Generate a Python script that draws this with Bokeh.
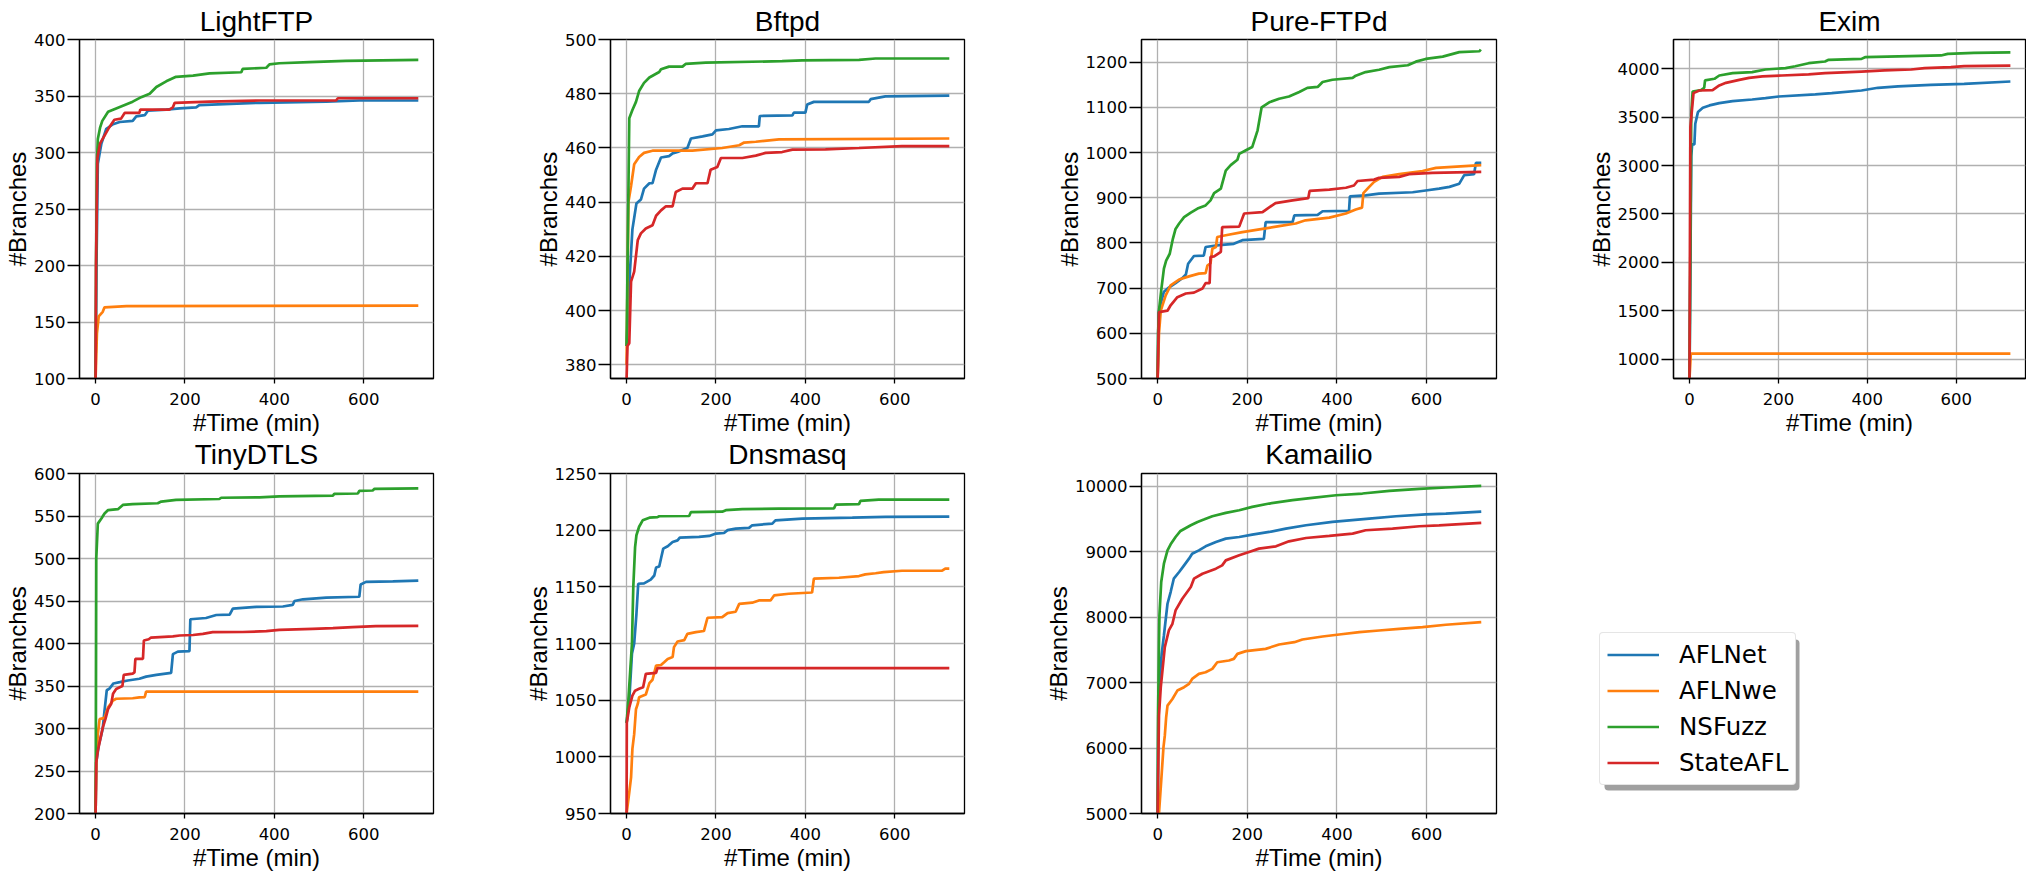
from bokeh.plotting import figure
from bokeh.models import (Range1d, FixedTicker, NumeralTickFormatter, Legend,
                          LegendItem, BoxAnnotation)
from bokeh.layouts import row, column
from bokeh.embed import file_html
from bokeh.resources import INLINE

SERIES = ["AFLNet", "AFLNwe", "NSFuzz", "StateAFL"]
COLORS = ["#1f77b4", "#ff7f0e", "#2ca02c", "#d62728"]
X_TICKS = [0, 200, 400, 600]
X_RANGE = (-36, 756)

# ---------------- LightFTP ----------------
LIGHTFTP_T_AFLNET = [0, 2, 5, 13, 24, 39, 54, 83, 91, 110, 117, 158, 188, 225, 232, 367, 516, 590, 722]
LIGHTFTP_V_AFLNET = [100, 200, 290, 308, 321, 325, 327, 328, 332, 333, 337, 338, 339, 340, 342, 344, 345, 346, 346]
LIGHTFTP_T_AFLNWE = [0, 3, 7, 16, 20, 69, 722]
LIGHTFTP_V_AFLNWE = [100, 140, 155, 159, 163, 164, 164.5]
LIGHTFTP_T_NSFUZZ = [0, 1, 3, 5, 10, 15, 28, 46, 83, 102, 121, 136, 158, 180, 218, 255, 326, 329, 382, 389, 411, 478, 560, 722]
LIGHTFTP_V_NSFUZZ = [100, 200, 290, 312, 322, 328, 336, 339, 345, 349, 352, 358, 363, 367, 368, 370, 371, 374, 375, 378, 379, 380, 381, 382]
LIGHTFTP_T_STATEAFL = [0, 1, 4, 10, 20, 30, 42, 57, 65, 98, 100, 165, 173, 177, 255, 367, 538, 542, 722]
LIGHTFTP_V_STATEAFL = [100, 200, 295, 308, 315, 322, 329, 330, 335, 335, 338, 338, 340, 344, 345, 346, 346, 348, 348]

# ---------------- Bftpd ----------------
BFTPD_T_AFLNET = [0, 6, 13, 22, 32, 39, 51, 58, 66, 77, 95, 103, 114, 136, 144, 170, 192, 200, 229, 259, 296, 298, 371, 374, 400, 404, 419, 542, 546, 579, 722]
BFTPD_V_AFLNET = [387, 410, 430, 439.5, 441, 445, 447, 447, 452, 456.5, 457, 458, 458.5, 460, 463.5, 464.3, 465, 466.5, 467, 468, 468, 471.8, 472, 473, 473, 476, 477, 477, 478, 479, 479.3]
BFTPD_T_AFLNWE = [0, 4, 10, 17, 28, 39, 58, 147, 214, 252, 263, 289, 341, 722]
BFTPD_V_AFLNWE = [380, 440, 446, 454, 456.7, 458.2, 459, 459, 460, 461, 462, 462.3, 463.2, 463.5]
BFTPD_T_NSFUZZ = [0, 6, 13, 21, 28, 39, 51, 62, 73, 77, 95, 125, 132, 177, 348, 393, 520, 557, 722]
BFTPD_V_NSFUZZ = [387, 471, 474, 477, 481, 484, 486, 487, 488, 489, 490, 490, 491, 491.5, 492, 492.3, 492.5, 493, 493]
BFTPD_T_STATEAFL = [0, 2, 6, 10, 17, 25, 32, 43, 58, 66, 77, 88, 103, 110, 125, 147, 155, 181, 188, 203, 211, 259, 289, 311, 348, 371, 445, 520, 616, 722]
BFTPD_V_STATEAFL = [375, 387, 388, 410.7, 414.4, 426, 428.5, 430.3, 431.5, 435, 437, 438.5, 438.5, 443.8, 445, 445, 447, 447, 452, 453, 456.3, 456.3, 457.2, 458.2, 458.5, 459.4, 459.5, 460, 460.7, 460.7]

# ---------------- Pure-FTPd ----------------
PURE_T_AFLNET = [0, 2, 7, 14, 25, 40, 55, 63, 68, 81, 103, 107, 137, 170, 189, 237, 241, 301, 305, 357, 368, 427, 429, 464, 494, 569, 598, 628, 651, 673, 684, 706, 710, 722]
PURE_V_AFLNET = [500, 645, 666, 692, 701, 711, 722, 730, 754, 771, 772, 791, 795, 798, 806, 809, 846, 846, 861, 862, 870, 871, 903, 905, 909, 912, 916, 920, 924, 931, 950, 952, 977, 977]
PURE_T_AFLNWE = [0, 3, 7, 18, 29, 48, 70, 92, 107, 111, 118, 122, 130, 133, 152, 189, 241, 271, 308, 330, 383, 420, 442, 456, 459, 472, 483, 502, 539, 591, 621, 722]
PURE_V_AFLNWE = [500, 600, 650, 684, 706, 719, 726, 732, 733, 750, 755, 787, 791, 813, 817, 824, 832, 837, 843, 850, 856, 865, 874, 878, 910, 924, 935, 946, 952, 959, 966, 972]
PURE_T_NSFUZZ = [0, 1, 3, 8, 14, 19, 27, 34, 40, 48, 59, 74, 89, 107, 118, 126, 141, 152, 163, 178, 182, 197, 211, 223, 232, 249, 271, 293, 316, 334, 357, 368, 390, 435, 442, 464, 494, 517, 558, 576, 598, 636, 673, 718, 721]
PURE_V_NSFUZZ = [500, 600, 650, 695, 743, 761, 776, 809, 831, 843, 857, 867, 876, 883, 894, 910, 920, 960, 972, 984, 997, 1005, 1012, 1049, 1100, 1111, 1119, 1124, 1134, 1143, 1145, 1156, 1161, 1165, 1170, 1178, 1183, 1189, 1193, 1201, 1207, 1212, 1222, 1224, 1228]
PURE_T_STATEAFL = [0, 3, 22, 29, 44, 63, 81, 100, 107, 116, 118, 126, 141, 144, 182, 193, 234, 245, 263, 301, 336, 339, 383, 420, 438, 446, 483, 494, 539, 561, 613, 722]
PURE_V_STATEAFL = [500, 647, 650, 662, 680, 688, 690, 699, 711, 711, 769, 770, 780, 835, 836, 865, 868, 876, 888, 894, 899, 915, 918, 922, 927, 937, 940, 944, 946, 952, 955, 957]

# ---------------- Exim ----------------
EXIM_T_AFLNET = [0, 4, 6, 11, 13, 19, 30, 45, 67, 97, 141, 171, 201, 283, 320, 387, 424, 469, 543, 618, 722]
EXIM_V_AFLNET = [800, 3100, 3219, 3219, 3432, 3553, 3597, 3622, 3646, 3666, 3683, 3697, 3714, 3735, 3749, 3776, 3804, 3818, 3835, 3845, 3869]
EXIM_T_AFLNWE = [0, 3, 722]
EXIM_V_AFLNWE = [800, 1058, 1058]
EXIM_T_NSFUZZ = [0, 4, 7, 26, 33, 35, 56, 67, 97, 141, 171, 216, 238, 268, 305, 313, 387, 395, 495, 566, 581, 640, 722]
EXIM_V_NSFUZZ = [800, 3535, 3766, 3780, 3804, 3880, 3897, 3931, 3955, 3966, 3993, 4007, 4027, 4058, 4076, 4093, 4103, 4120, 4131, 4138, 4155, 4165, 4169]
EXIM_T_STATEAFL = [0, 2, 9, 22, 52, 67, 82, 112, 134, 164, 208, 268, 305, 387, 439, 499, 529, 588, 618, 722]
EXIM_V_STATEAFL = [800, 3400, 3749, 3776, 3780, 3828, 3855, 3886, 3907, 3921, 3931, 3942, 3955, 3972, 3983, 3993, 4007, 4017, 4027, 4034]

# ---------------- TinyDTLS ----------------
TINY_T_AFLNET = [0, 1.5, 7, 13, 16, 20, 25, 31, 40, 54, 72, 98, 113, 136, 169, 173, 184, 210, 212, 247, 270, 300, 307, 359, 419, 441, 445, 464, 516, 590, 593, 605, 665, 722]
TINY_V_AFLNET = [200, 260, 280, 293, 300, 321, 345, 347, 353, 354.5, 356.5, 358.5, 361, 363, 365.5, 387.5, 390.5, 391, 428.5, 430, 433.5, 434, 441, 443, 443.5, 445.5, 450, 452, 454, 455, 469.5, 472.5, 473, 474]
TINY_T_AFLNWE = [0, 1.5, 5, 9, 20, 28, 39, 46, 83, 98, 110, 113, 722]
TINY_V_AFLNWE = [200, 260, 293, 311, 312.5, 325, 333, 335, 335.6, 336.7, 337, 343.4, 343.5]
TINY_T_NSFUZZ = [0, 0.5, 1.5, 5, 13, 20, 28, 50, 61, 83, 139, 147, 180, 277, 281, 367, 411, 531, 534, 587, 590, 620, 624, 722]
TINY_V_NSFUZZ = [200, 260, 500, 541, 547, 553, 557, 558, 563, 564, 565, 567, 569, 570, 571.5, 572, 573, 574, 576, 576.5, 579.5, 580, 582, 582.5]
TINY_T_STATEAFL = [0, 1.5, 5, 16, 22, 28, 35, 39, 46, 54, 60, 63, 83, 87, 89, 106, 108, 119, 124, 173, 188, 218, 240, 262, 329, 382, 411, 486, 531, 575, 627, 722]
TINY_V_STATEAFL = [200, 260, 274, 301, 311, 323, 329, 341, 346.5, 348.5, 350, 363, 364.5, 366, 382, 382, 403.5, 405, 407, 408.3, 409.4, 410, 411.4, 413.3, 413.5, 414.5, 416, 417.3, 418, 419.3, 420.4, 420.7]

# ---------------- Dnsmasq ----------------
DNS_T_AFLNET = [0, 6, 12, 17, 22, 26, 39, 54, 62, 66, 73, 77, 82, 92, 103, 114, 119, 162, 185, 200, 218, 226, 244, 274, 281, 326, 333, 393, 505, 579, 722]
DNS_V_AFLNET = [1030, 1050, 1091, 1100, 1126, 1152.7, 1153, 1156.3, 1160, 1167, 1168, 1175, 1183.7, 1185.8, 1189.6, 1191, 1193.4, 1194, 1194.9, 1197, 1197.5, 1200, 1201.4, 1202, 1204.3, 1205.8, 1208.7, 1210.2, 1211, 1211.7, 1212]
DNS_T_AFLNWE = [0, 6, 10, 13, 17, 21, 25, 28, 43, 51, 58, 66, 77, 84, 92, 103, 106, 114, 129, 136, 155, 173, 181, 214, 226, 244, 252, 281, 296, 322, 330, 363, 415, 419, 475, 520, 534, 557, 575, 616, 706, 713, 722]
DNS_V_AFLNWE = [950, 968.6, 981.8, 1007, 1020, 1042, 1046.7, 1052.6, 1055, 1065, 1068, 1080.5, 1081, 1083.5, 1086.4, 1088, 1096.8, 1101.8, 1103, 1108.5, 1110, 1111, 1122.7, 1123.3, 1126.8, 1128, 1135, 1136, 1138, 1138, 1142.4, 1143.9, 1145, 1157.2, 1158, 1159.5, 1161, 1162, 1163, 1164.2, 1164.2, 1166, 1166]
DNS_T_NSFUZZ = [0, 4, 8, 12, 15, 19, 22, 28, 36, 51, 69, 73, 140, 144, 214, 222, 259, 341, 464, 468, 520, 523, 564, 722]
DNS_V_NSFUZZ = [1030, 1050, 1075, 1100, 1150, 1185, 1195.5, 1203, 1208.7, 1211, 1211.5, 1212.3, 1212.5, 1216, 1216.3, 1217.6, 1218.5, 1219, 1219.3, 1222.6, 1223, 1225.8, 1227, 1227]
DNS_T_STATEAFL = [0, 0.5, 6, 13, 19, 28, 37, 43, 66, 69, 722]
DNS_V_STATEAFL = [950, 1030, 1043.7, 1054, 1058.4, 1060, 1061.4, 1073.2, 1074, 1078.2, 1078.2]

# ---------------- Kamailio ----------------
KAM_T_AFLNET = [0, 1.5, 4, 9, 14, 22, 29, 36, 48, 59, 70, 77, 92, 107, 130, 152, 182, 211, 249, 286, 331, 390, 472, 532, 598, 643, 722]
KAM_V_AFLNET = [5000, 6500, 7005, 7439, 7719, 8204, 8383, 8587, 8689, 8791, 8893, 8969, 9020, 9082, 9148, 9199, 9224, 9260, 9301, 9352, 9403, 9454, 9505, 9541, 9571, 9582, 9612]
KAM_T_AFLNWE = [0, 3, 8, 13, 16, 19, 22, 33, 44, 59, 70, 77, 92, 107, 122, 133, 159, 170, 178, 197, 241, 271, 305, 323, 368, 405, 450, 494, 539, 591, 643, 722]
KAM_V_AFLNWE = [5000, 5000, 5500, 6010, 6189, 6469, 6648, 6750, 6878, 6929, 6980, 7056, 7133, 7158, 7209, 7311, 7337, 7362, 7439, 7480, 7515, 7582, 7617, 7658, 7704, 7735, 7770, 7796, 7821, 7847, 7883, 7923]
KAM_T_NSFUZZ = [0, 1, 3, 4, 8, 14, 22, 29, 40, 51, 74, 89, 103, 122, 152, 182, 211, 249, 301, 345, 398, 457, 517, 584, 643, 722]
KAM_V_NSFUZZ = [5000, 6520, 7592, 8025, 8536, 8816, 9020, 9112, 9224, 9316, 9403, 9454, 9490, 9541, 9592, 9633, 9684, 9735, 9786, 9821, 9862, 9888, 9929, 9959, 9980, 10005]
KAM_T_STATEAFL = [0, 3, 7, 16, 25, 33, 40, 55, 74, 81, 100, 130, 144, 152, 182, 204, 226, 264, 293, 331, 383, 435, 464, 524, 584, 628, 722]
KAM_V_STATEAFL = [5000, 6500, 6929, 7541, 7796, 7898, 8102, 8281, 8459, 8587, 8663, 8740, 8791, 8867, 8944, 8995, 9046, 9082, 9158, 9209, 9240, 9276, 9327, 9352, 9388, 9403, 9439]

TITLES = ["LightFTP", "Bftpd", "Pure-FTPd", "Exim", "TinyDTLS", "Dnsmasq", "Kamailio"]
Y_RANGES = [(100, 400), (375, 500), (500, 1250), (800, 4303), (200, 600), (950, 1250), (5000, 10194)]
Y_TICKS = [
    [100, 150, 200, 250, 300, 350, 400],
    [380, 400, 420, 440, 460, 480, 500],
    [500, 600, 700, 800, 900, 1000, 1100, 1200],
    [1000, 1500, 2000, 2500, 3000, 3500, 4000],
    [200, 250, 300, 350, 400, 450, 500, 550, 600],
    [950, 1000, 1050, 1100, 1150, 1200, 1250],
    [5000, 6000, 7000, 8000, 9000, 10000],
]
PANEL_DATA = [
    [(LIGHTFTP_T_AFLNET, LIGHTFTP_V_AFLNET), (LIGHTFTP_T_AFLNWE, LIGHTFTP_V_AFLNWE), (LIGHTFTP_T_NSFUZZ, LIGHTFTP_V_NSFUZZ), (LIGHTFTP_T_STATEAFL, LIGHTFTP_V_STATEAFL)],
    [(BFTPD_T_AFLNET, BFTPD_V_AFLNET), (BFTPD_T_AFLNWE, BFTPD_V_AFLNWE), (BFTPD_T_NSFUZZ, BFTPD_V_NSFUZZ), (BFTPD_T_STATEAFL, BFTPD_V_STATEAFL)],
    [(PURE_T_AFLNET, PURE_V_AFLNET), (PURE_T_AFLNWE, PURE_V_AFLNWE), (PURE_T_NSFUZZ, PURE_V_NSFUZZ), (PURE_T_STATEAFL, PURE_V_STATEAFL)],
    [(EXIM_T_AFLNET, EXIM_V_AFLNET), (EXIM_T_AFLNWE, EXIM_V_AFLNWE), (EXIM_T_NSFUZZ, EXIM_V_NSFUZZ), (EXIM_T_STATEAFL, EXIM_V_STATEAFL)],
    [(TINY_T_AFLNET, TINY_V_AFLNET), (TINY_T_AFLNWE, TINY_V_AFLNWE), (TINY_T_NSFUZZ, TINY_V_NSFUZZ), (TINY_T_STATEAFL, TINY_V_STATEAFL)],
    [(DNS_T_AFLNET, DNS_V_AFLNET), (DNS_T_AFLNWE, DNS_V_AFLNWE), (DNS_T_NSFUZZ, DNS_V_NSFUZZ), (DNS_T_STATEAFL, DNS_V_STATEAFL)],
    [(KAM_T_AFLNET, KAM_V_AFLNET), (KAM_T_AFLNWE, KAM_V_AFLNWE), (KAM_T_NSFUZZ, KAM_V_NSFUZZ), (KAM_T_STATEAFL, KAM_V_STATEAFL)],
]

# layout (pixels); the page content starts at y=0, x=8
COL_LEFT = [79, 118, 129, 141]
FRAME_W = [354, 354, 355, 352]
COL_RIGHT = [59, 48, 36, 1]
TITLE_STANDOFF = [6, 8]
ROW_TOP = [39, 41]          # = title box (33) + standoff
FRAME_H = [339, 340]
ROW_BOTTOM = [66, 64]
ROW2_SHIFT = -12            # second row pulled up so its frame starts at y=473
LINE_W = 2.7

TICK_FONT = "DejaVu Sans"
LABEL_FONT = "Liberation Sans"


def make_panel(i):
    r, c = divmod(i, 4)
    ylo, yhi = Y_RANGES[i]
    p = figure(frame_width=FRAME_W[c], frame_height=FRAME_H[r],
               x_range=Range1d(*X_RANGE), y_range=Range1d(ylo, yhi),
               output_backend="svg", toolbar_location=None,
               min_border_left=COL_LEFT[c], min_border_right=COL_RIGHT[c],
               min_border_top=ROW_TOP[r], min_border_bottom=ROW_BOTTOM[r],
               title=TITLES[i])
    p.border_fill_alpha = 0
    p.title.align = "center"
    p.title.text_font = LABEL_FONT
    p.title.text_font_size = "28px"
    p.title.text_font_style = "normal"
    p.title.text_color = "black"
    p.title.standoff = TITLE_STANDOFF[r]

    p.xaxis.ticker = FixedTicker(ticks=X_TICKS)
    p.yaxis.ticker = FixedTicker(ticks=Y_TICKS[i])
    p.yaxis.formatter = NumeralTickFormatter(format="0")
    p.xaxis.formatter = NumeralTickFormatter(format="0")
    p.xaxis.axis_label = "#Time (min)"
    p.yaxis.axis_label = "#Branches"
    for ax in (p.xaxis[0], p.yaxis[0]):
        ax.axis_label_text_font = LABEL_FONT
        ax.axis_label_text_font_size = "24px"
        ax.axis_label_text_font_style = "normal"
        ax.axis_label_text_color = "black"
        ax.major_label_text_font = TICK_FONT
        ax.major_label_text_font_size = "16.5px"
        ax.major_label_text_color = "black"
        ax.major_tick_in = 0
        ax.minor_tick_in = 0
        ax.minor_tick_out = 0
        ax.major_tick_line_color = "black"
        ax.major_tick_line_width = 1.3
        ax.axis_line_color = "black"
        ax.axis_line_width = 1.3
    p.xaxis.major_tick_out = 5
    p.xaxis.major_label_standoff = 9
    p.xaxis.axis_label_standoff = 1
    p.yaxis.major_tick_out = 12
    p.yaxis.major_label_standoff = 2
    p.yaxis.axis_label_standoff = 0

    p.grid.grid_line_color = "#b0b0b0"
    p.grid.grid_line_width = 1.3
    p.outline_line_color = "black"
    p.outline_line_width = 1.3
    p.outline_line_alpha = 1

    for (t, v), color in zip(PANEL_DATA[i], COLORS):
        p.line(t, v, line_color=color, line_width=LINE_W)
    return p


panels = [make_panel(i) for i in range(7)]

# legend panel: blank frame holding the legend (1 data unit = 1 px inside the frame)
LEG_LEFT, LEG_FW = 64, 220
leg_fig = figure(frame_width=LEG_FW, frame_height=FRAME_H[1],
                 x_range=Range1d(0, LEG_FW), y_range=Range1d(0, FRAME_H[1]),
                 x_axis_type=None, y_axis_type=None,
                 output_backend="svg", toolbar_location=None,
                 min_border_left=LEG_LEFT, min_border_right=494 - LEG_LEFT - LEG_FW,
                 min_border_top=ROW_TOP[1], min_border_bottom=ROW_BOTTOM[1])
leg_fig.grid.visible = False
leg_fig.outline_line_color = None
leg_fig.border_fill_alpha = 0
leg_fig.background_fill_alpha = 0

LEG_X, LEG_Y = 3, 28      # legend bottom-left relative to frame bottom-left (px)
LEG_W, LEG_H = 195, 151
SHADOW = 5
shadow = BoxAnnotation(left=LEG_X + SHADOW, right=LEG_X + LEG_W + SHADOW,
                       bottom=LEG_Y - SHADOW, top=LEG_Y + LEG_H - SHADOW,
                       fill_color="#a0a0a0", fill_alpha=1, line_color=None)
if "border_radius" in BoxAnnotation.properties():
    shadow.border_radius = 4
leg_fig.add_layout(shadow)

items = []
for (t, v), name, color in zip(PANEL_DATA[6], SERIES, COLORS):
    # real series lie far outside this blank frame's range: only the legend swatch shows
    rr = leg_fig.line(t, v, line_color=color, line_width=LINE_W)
    items.append(LegendItem(label=name, renderers=[rr]))
legend = Legend(items=items, location=(LEG_X, LEG_Y), margin=0, padding=7, spacing=7,
                glyph_width=52, glyph_height=29, label_height=29, label_standoff=20,
                label_text_font=TICK_FONT, label_text_font_size="24.5px",
                label_text_color="black",
                border_line_color="#cccccc", border_line_width=1.3,
                background_fill_color="white", background_fill_alpha=1)
if "border_radius" in Legend.properties():
    legend.border_radius = 4
leg_fig.add_layout(legend, "center")

row1 = row(*panels[:4])
row2 = row(panels[4], panels[5], panels[6], leg_fig)
row2.margin = (ROW2_SHIFT, 0, 0, 0)
layout = column(row1, row2)

open("out.html", "w").write(file_html(layout, INLINE))
